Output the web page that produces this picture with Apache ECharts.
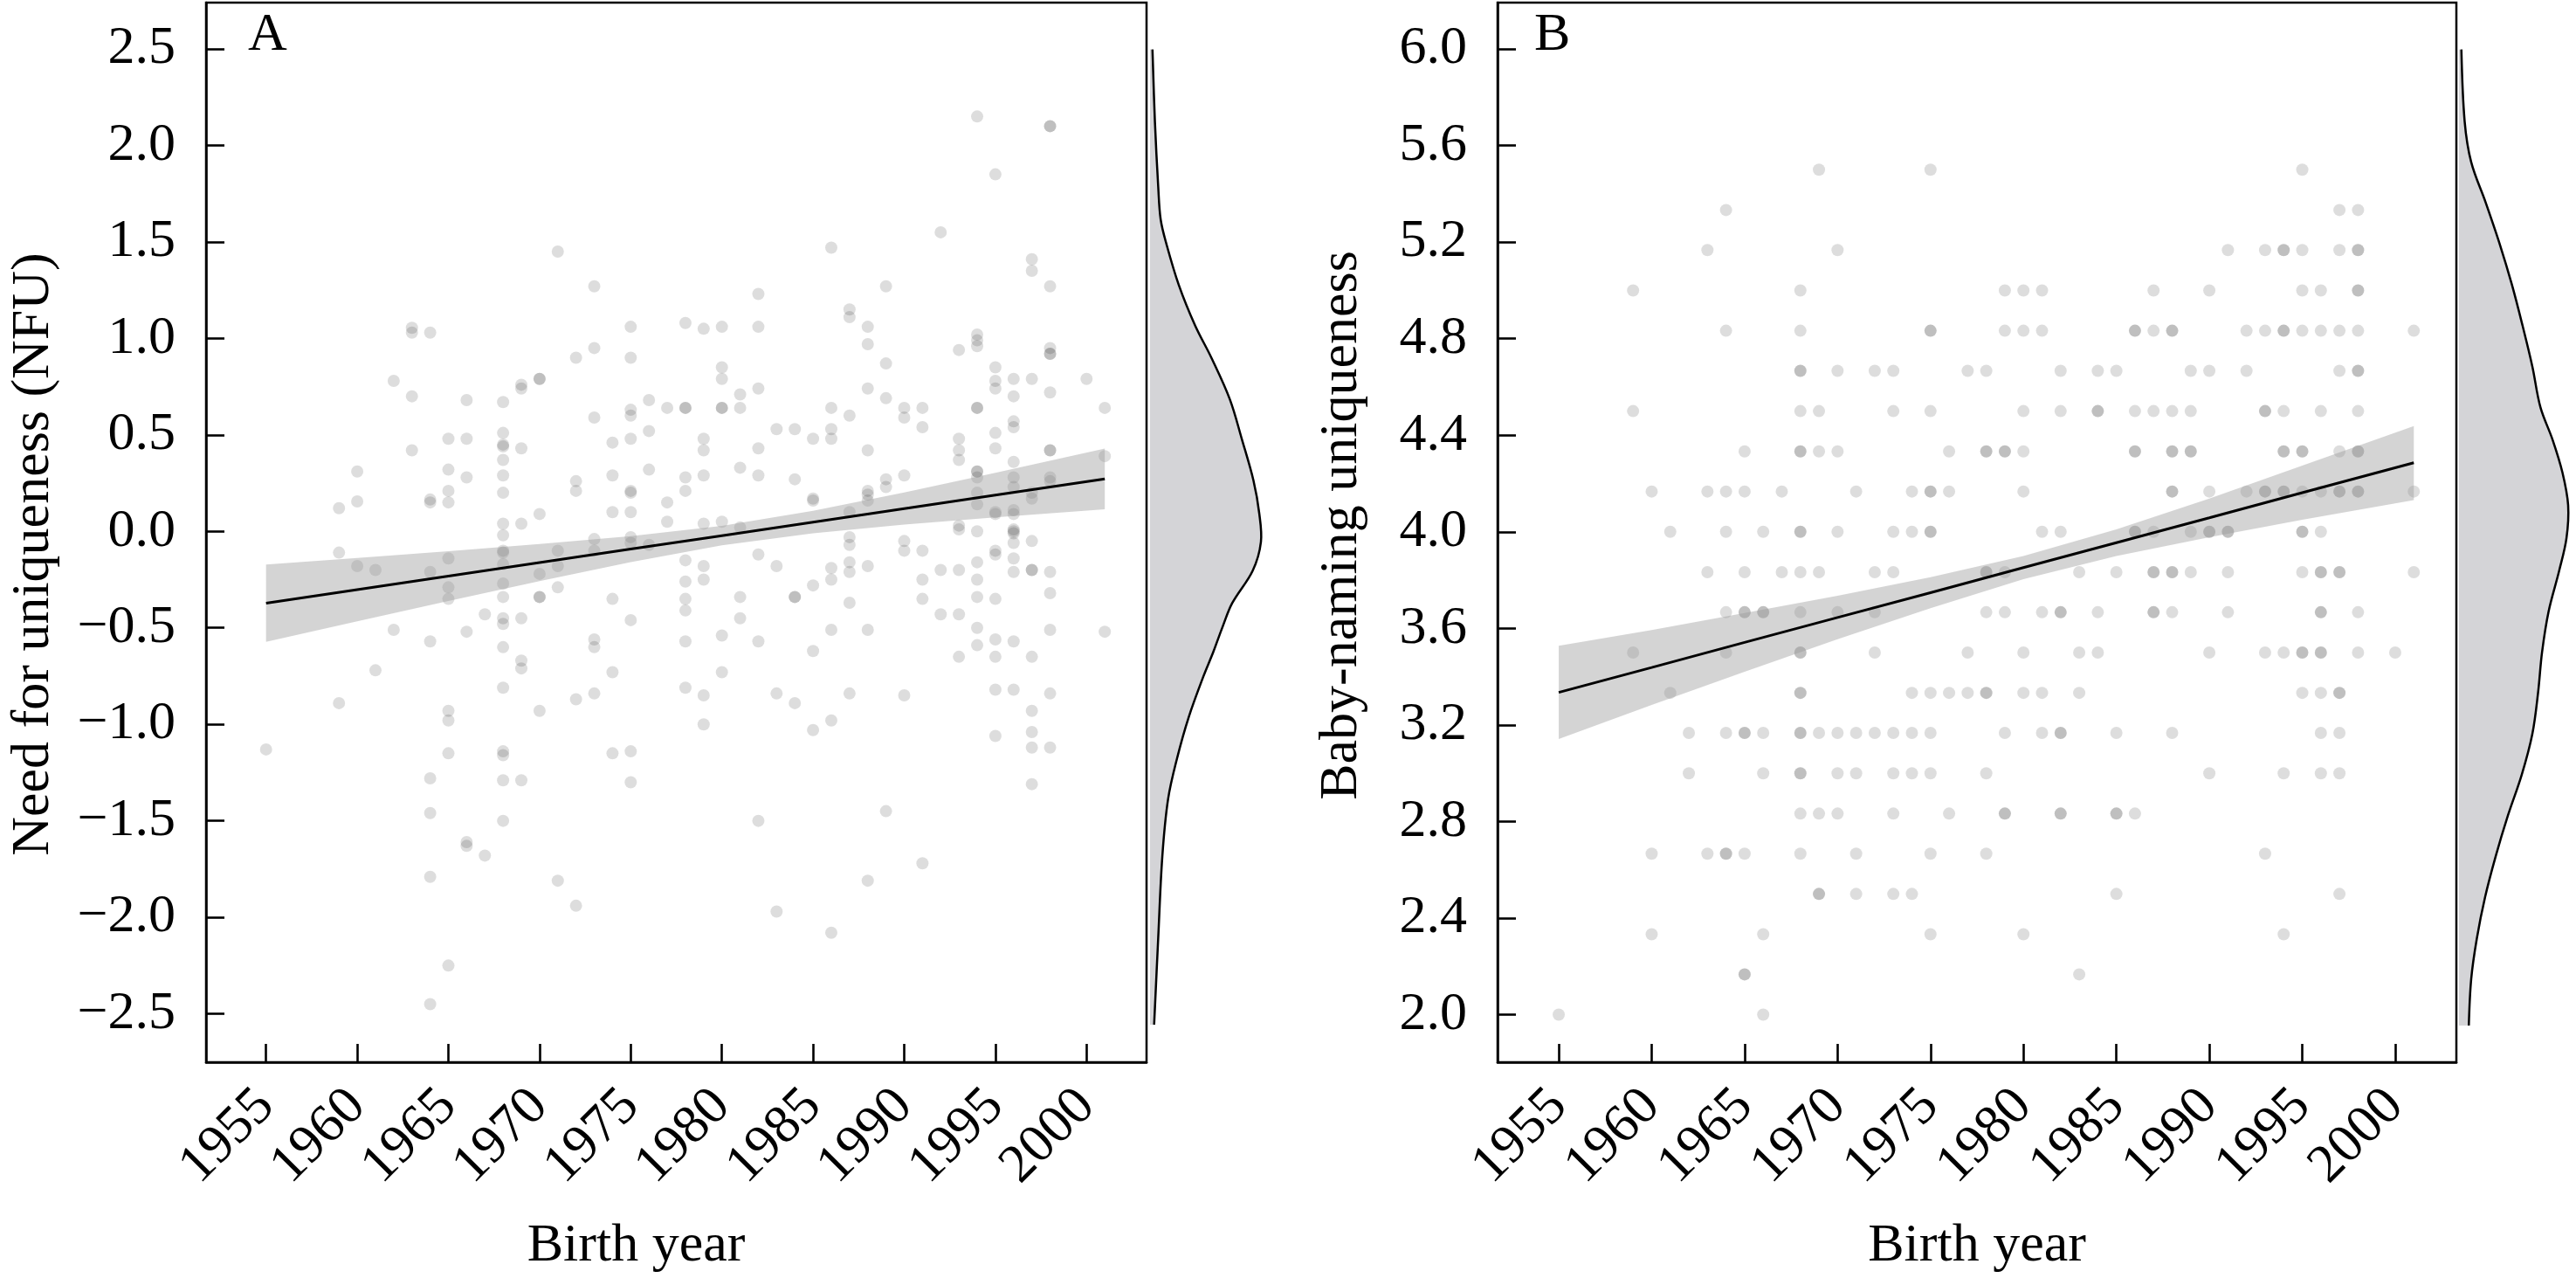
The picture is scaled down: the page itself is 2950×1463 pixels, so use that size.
<!DOCTYPE html>
<html><head><meta charset="utf-8">
<script src="https://cdn.jsdelivr.net/npm/echarts@6/dist/echarts.min.js"></script>
<style>html,body{margin:0;padding:0;background:#fff}#c{width:2950px;height:1463px}</style>
</head><body><div id="c"></div>
<script>
// ---- tick labels ----
const yearTicks = [1955, 1960, 1965, 1970, 1975, 1980, 1985, 1990, 1995, 2000];
const nfuTicks = [-2.5, -2, -1.5, -1, -0.5, 0, 0.5, 1, 1.5, 2, 2.5];
const nfuTickLabels = ['\u22122.5', '\u22122.0', '\u22121.5', '\u22121.0', '\u22120.5', '0.0', '0.5', '1.0', '1.5', '2.0', '2.5'];
const bnuTicks = [2.0, 2.4, 2.8, 3.2, 3.6, 4.0, 4.4, 4.8, 5.2, 5.6, 6.0];
const bnuTickLabels = ['2.0', '2.4', '2.8', '3.2', '3.6', '4.0', '4.4', '4.8', '5.2', '5.6', '6.0'];

// ---- panel A: need for uniqueness, points grouped by birth year ----
const nfuPoints = [
  [1955, [-1.13]],
  [1959, [0.12, -0.11, -0.89]],
  [1960, [0.31, 0.155, -0.18]],
  [1961, [-0.2, -0.72]],
  [1962, [0.78, -0.51]],
  [1963, [1.055, 1.03, 0.70, 0.42]],
  [1964, [1.03, 0.165, 0.15, -0.21, -0.57, -1.28, -1.46, -1.79, -2.45]],
  [1965, [0.48, 0.32, 0.21, 0.15, -0.14, -0.29, -0.35, -0.93, -0.98, -1.15, -2.25]],
  [1966, [0.68, 0.48, 0.28, -0.52, -1.61, -1.63]],
  [1967, [-0.43, -1.68]],
  [1968, [0.67, 0.51, 0.45, 0.44, 0.37, 0.29, 0.2, 0.04, -0.02, -0.1, -0.11, -0.17, -0.27, -0.34, -0.45, -0.48, -0.6, -0.81, -1.14, -1.16, -1.29, -1.5]],
  [1969, [0.76, 0.74, 0.43, 0.04, -0.45, -0.67, -0.71, -1.29]],
  [1970, [0.79, 0.79, 0.09, -0.22, -0.34, -0.34, -0.93]],
  [1971, [1.45, -0.1, -0.18, -0.29, -1.81]],
  [1972, [0.9, 0.26, 0.21, -0.87, -1.94]],
  [1973, [1.27, 0.95, 0.59, -0.04, -0.1, -0.56, -0.6, -0.84]],
  [1974, [0.46, 0.29, 0.1, -0.35, -0.73, -1.15]],
  [1975, [1.06, 0.9, 0.63, 0.6, 0.48, 0.21, 0.2, 0.1, -0.03, -0.06, -0.46, -1.14, -1.3]],
  [1976, [0.68, 0.52, 0.32, -0.07]],
  [1977, [0.64, 0.15, 0.05]],
  [1978, [1.08, 0.64, 0.64, 0.28, 0.21, -0.15, -0.26, -0.35, -0.41, -0.57, -0.81]],
  [1979, [1.05, 0.48, 0.42, 0.29, 0.04, -0.18, -0.25, -0.85, -1.0]],
  [1980, [1.06, 0.85, 0.79, 0.64, 0.64, 0.05, -0.54, -0.73]],
  [1981, [0.71, 0.64, 0.33, 0.02, -0.34, -0.45]],
  [1982, [1.23, 1.06, 0.74, 0.43, 0.29, -0.12, -0.57, -1.5]],
  [1983, [0.53, -0.18, -0.84, -1.97]],
  [1984, [0.53, 0.27, -0.34, -0.34, -0.89]],
  [1985, [0.48, 0.17, 0.16, -0.28, -0.62, -1.03]],
  [1986, [1.47, 0.64, 0.53, 0.48, -0.19, -0.25, -0.51, -0.98, -2.08]],
  [1987, [1.15, 1.11, 0.6, 0.1, -0.03, -0.07, -0.16, -0.21, -0.37, -0.84]],
  [1988, [1.06, 0.97, 0.74, 0.42, 0.21, 0.19, 0.16, -0.18, -0.51, -1.81]],
  [1989, [1.27, 0.87, 0.69, 0.27, 0.23, -1.45]],
  [1990, [0.64, 0.59, 0.29, -0.05, -0.1, -0.85]],
  [1991, [0.64, 0.54, -0.1, -0.25, -0.35, -1.72]],
  [1992, [1.55, -0.2, -0.43]],
  [1993, [0.94, 0.48, 0.42, 0.37, 0.03, 0.01, -0.2, -0.43, -0.65]],
  [1994, [2.15, 1.02, 0.99, 0.96, 0.64, 0.64, 0.31, 0.31, 0.28, 0.2, 0.14, 0.0, -0.16, -0.25, -0.34, -0.5, -0.59]],
  [1995, [1.85, 0.85, 0.78, 0.74, 0.51, 0.43, 0.1, 0.09, -0.1, -0.12, -0.35, -0.56, -0.65, -0.82, -1.06]],
  [1996, [0.79, 0.7, 0.57, 0.54, 0.36, 0.28, 0.23, 0.11, 0.09, 0.01, 0.0, -0.01, -0.06, -0.14, -0.21, -0.57, -0.82]],
  [1997, [1.41, 1.35, 0.79, 0.2, 0.17, -0.05, -0.2, -0.2, -0.65, -0.93, -1.04, -1.12, -1.31]],
  [1998, [2.1, 2.1, 1.27, 0.95, 0.92, 0.92, 0.72, 0.42, 0.42, 0.28, 0.26, -0.21, -0.32, -0.51, -0.84, -1.12]],
  [2000, [0.79]],
  [2001, [0.64, 0.39, -0.52]]
];

// ---- panel B: baby-naming uniqueness, points grouped by birth year ----
const bnuPoints = [
  [1955, [2.0]],
  [1959, [5.0, 4.5, 3.5]],
  [1960, [4.167, 2.667, 2.333]],
  [1961, [4.0, 3.333]],
  [1962, [3.167, 3.0]],
  [1963, [5.167, 4.167, 3.833, 2.667]],
  [1964, [5.333, 4.833, 4.167, 4.0, 3.667, 3.5, 3.167, 2.667, 2.667]],
  [1965, [4.333, 4.167, 3.833, 3.667, 3.667, 3.167, 3.167, 2.667, 2.167, 2.167]],
  [1966, [4.0, 3.667, 3.667, 3.167, 3.0, 2.333, 2.0]],
  [1967, [4.167, 3.833]],
  [1968, [5.0, 4.833, 4.667, 4.667, 4.5, 4.333, 4.333, 4.0, 4.0, 3.833, 3.667, 3.5, 3.5, 3.333, 3.333, 3.167, 3.167, 3.0, 3.0, 2.833, 2.667]],
  [1969, [5.5, 4.5, 4.333, 3.833, 3.167, 2.833, 2.5, 2.5]],
  [1970, [5.167, 4.667, 4.333, 4.0, 3.667, 3.167, 3.0, 2.833]],
  [1971, [4.167, 3.167, 3.0, 2.667, 2.5]],
  [1972, [4.667, 3.833, 3.667, 3.5, 3.167]],
  [1973, [4.667, 4.5, 4.0, 3.833, 3.167, 3.0, 2.833, 2.5]],
  [1974, [4.167, 4.0, 3.333, 3.167, 3.0, 2.5]],
  [1975, [5.5, 4.833, 4.833, 4.5, 4.167, 4.167, 4.0, 4.0, 3.333, 3.167, 3.0, 2.667, 2.333]],
  [1976, [4.333, 4.167, 3.333, 2.833]],
  [1977, [4.667, 3.5, 3.333]],
  [1978, [4.667, 4.333, 4.333, 3.833, 3.833, 3.667, 3.333, 3.333, 3.0, 2.667]],
  [1979, [5.0, 4.833, 4.333, 4.333, 3.833, 3.667, 3.167, 2.833, 2.833]],
  [1980, [5.0, 4.833, 4.5, 4.333, 4.167, 3.5, 3.333, 2.333]],
  [1981, [5.0, 4.833, 4.0, 3.667, 3.333, 3.167]],
  [1982, [4.667, 4.5, 4.0, 3.667, 3.667, 3.167, 3.167, 2.833, 2.833]],
  [1983, [3.833, 3.5, 3.333, 2.167]],
  [1984, [4.667, 4.5, 4.5, 3.667, 3.5]],
  [1985, [4.667, 3.833, 3.167, 2.833, 2.833, 2.5]],
  [1986, [4.833, 4.833, 4.5, 4.333, 4.333, 4.0, 4.0, 2.833]],
  [1987, [5.0, 4.833, 4.5, 4.0, 3.833, 3.833, 3.667, 3.667]],
  [1988, [4.833, 4.833, 4.5, 4.333, 4.333, 4.167, 4.167, 3.833, 3.833, 3.667, 3.167]],
  [1989, [4.667, 4.5, 4.333, 4.333, 4.0, 3.833]],
  [1990, [5.0, 4.667, 4.167, 4.0, 4.0, 3.5, 3.0]],
  [1991, [5.167, 4.0, 4.0, 3.833, 3.667]],
  [1992, [4.833, 4.667, 4.167]],
  [1993, [5.167, 4.833, 4.5, 4.5, 4.167, 4.167, 3.5, 2.667]],
  [1994, [5.167, 5.167, 4.833, 4.833, 4.5, 4.333, 4.333, 4.167, 4.167, 3.5, 3.0, 2.333]],
  [1995, [5.5, 5.167, 5.0, 4.833, 4.333, 4.333, 4.167, 4.0, 4.0, 3.833, 3.5, 3.5, 3.333]],
  [1996, [5.0, 4.833, 4.5, 4.167, 4.0, 3.833, 3.833, 3.667, 3.667, 3.5, 3.5, 3.333, 3.167, 3.0]],
  [1997, [5.333, 5.167, 4.833, 4.667, 4.333, 4.167, 4.167, 3.833, 3.833, 3.333, 3.333, 3.167, 3.0, 2.5]],
  [1998, [5.333, 5.167, 5.167, 5.0, 5.0, 4.833, 4.667, 4.667, 4.5, 4.333, 4.333, 4.167, 4.167, 3.667, 3.5]],
  [2000, [3.5]],
  [2001, [4.833, 4.167, 3.833]]
];

// ---- fitted lines and confidence bands ----
const fitYears = [1955, 1960, 1965, 1970, 1975, 1980, 1985, 1990, 1995, 2001];
const nfuFit   = [-0.372, -0.302, -0.232, -0.162, -0.092, -0.022, 0.048, 0.118, 0.188, 0.272];
const nfuUpper = [-0.172, -0.138, -0.103, -0.066, -0.025, 0.028, 0.106, 0.202, 0.304, 0.429];
const nfuLower = [-0.572, -0.466, -0.361, -0.258, -0.159, -0.072, -0.010, 0.035, 0.073, 0.115];
const bnuFit   = [3.335, 3.438, 3.542, 3.645, 3.748, 3.852, 3.955, 4.058, 4.162, 4.286];
const bnuUpper = [3.528, 3.593, 3.664, 3.735, 3.812, 3.900, 4.010, 4.138, 4.274, 4.438];
const bnuLower = [3.142, 3.283, 3.420, 3.555, 3.684, 3.804, 3.900, 3.978, 4.050, 4.131];

// ---- marginal densities (relative height) ----
const nfuDensityY = [2.5, 2.13, 1.795, 1.628, 1.502, 1.293, 1.084, 0.916, 0.707, 0.498, 0.289, 0.121, -0.025, -0.172, -0.339, -0.464, -0.59, -0.715, -0.925, -1.134, -1.343, -1.636, -2.054, -2.5];
const nfuDensity  = [0.022, 0.044, 0.074, 0.096, 0.148, 0.259, 0.407, 0.556, 0.719, 0.830, 0.933, 0.985, 1.0, 0.926, 0.741, 0.652, 0.570, 0.481, 0.348, 0.244, 0.163, 0.111, 0.074, 0.037];
const bnuDensityY = [6.0, 5.705, 5.538, 5.371, 5.203, 5.036, 4.869, 4.701, 4.534, 4.4, 4.266, 4.132, 3.998, 3.864, 3.697, 3.53, 3.362, 3.195, 3.028, 2.86, 2.693, 2.526, 2.358, 2.191, 2.0];
const bnuDensity  = [0.022, 0.052, 0.112, 0.246, 0.373, 0.485, 0.582, 0.672, 0.746, 0.858, 0.948, 1.0, 0.985, 0.918, 0.821, 0.761, 0.724, 0.672, 0.575, 0.448, 0.336, 0.239, 0.164, 0.112, 0.090];

// ---------------------------------------------------------------
const FONT = 'Liberation Serif';
const flat = (groups) => groups.flatMap(([yr, vals]) => vals.map(v => [yr, v]));
const labelFrom = (ticks, labels) => (v) => {
  const i = ticks.findIndex(t => Math.abs(t - v) < 1e-6);
  return i >= 0 ? labels[i] : '';
};

const G = [
  { left: 236, top: 3, width: 1077, height: 1226 },
  { left: 1317, top: 3, width: 127, height: 1226 },
  { left: 1715, top: 3, width: 1098, height: 1226 },
  { left: 2816, top: 3, width: 125, height: 1226 }
];
const X_MIN = 1951.71, X_MAX = 2003.29;
const NFU_MIN = -2.751, NFU_MAX = 2.740;
const BNU_MIN = 1.803, BNU_MAX = 6.192;

const AXLINE = { show: true, onZero: false, lineStyle: { color: '#000', width: 2.5 } };
const TICK = (vals) => ({ show: true, inside: true, length: 21, lineStyle: { color: '#000', width: 2.6 }, customValues: vals });

function xAxisMain(gi, padRight) {
  return {
    gridIndex: gi, type: 'value', position: 'bottom', min: X_MIN, max: X_MAX,
    axisLine: AXLINE, splitLine: { show: false },
    axisTick: TICK(yearTicks),
    axisLabel: { customValues: yearTicks, rotate: 45, margin: 41, padding: [36, 0, 0, 0], fontSize: 62, color: '#000', fontFamily: FONT, formatter: v => String(v) },
    name: 'Birth year', nameLocation: 'middle', nameGap: 180,
    nameTextStyle: { fontSize: 62, color: '#000', fontFamily: FONT, padding: [0, padRight, 0, 0] }
  };
}
function yAxisMain(gi, min, max, ticks, labels, name, gap, pad) {
  return {
    gridIndex: gi, type: 'value', position: 'left', min: min, max: max,
    axisLine: AXLINE, splitLine: { show: false },
    axisTick: TICK(ticks),
    axisLabel: { customValues: ticks, margin: 35, fontSize: 62, color: '#000', fontFamily: FONT, formatter: labelFrom(ticks, labels) },
    name: name, nameLocation: 'middle', nameGap: gap,
    nameTextStyle: { fontSize: 62, color: '#000', fontFamily: FONT, padding: pad }
  };
}
const hidden = (gi, min, max) => ({ gridIndex: gi, type: 'value', min: min, max: max, show: false, splitLine: { show: false } });

function bandSeries(xi, upper, lower) {
  return {
    type: 'custom', xAxisIndex: xi, yAxisIndex: xi, z: 3, silent: true,
    data: fitYears.map((x, i) => [x, upper[i], lower[i]]),
    renderItem: (params, api) => {
      if (params.dataIndex !== 0) return null;
      const pts = [];
      fitYears.forEach((x, i) => pts.push(api.coord([x, upper[i]])));
      for (let i = fitYears.length - 1; i >= 0; i--) pts.push(api.coord([fitYears[i], lower[i]]));
      return { type: 'polygon', shape: { points: pts }, style: { fill: 'rgba(153,153,153,0.42)' } };
    }
  };
}
function densitySeries(xi, ys, ds) {
  return {
    type: 'custom', xAxisIndex: xi, yAxisIndex: xi, silent: true,
    data: ys.map((y, i) => [ds[i], y]),
    renderItem: (params, api) => {
      if (params.dataIndex !== 0) return null;
      const curve = ys.map((y, i) => api.coord([ds[i], y]));
      const poly = [api.coord([0, ys[0]])].concat(curve, [api.coord([0, ys[ys.length - 1]])]);
      return {
        type: 'group', children: [
          { type: 'polygon', shape: { points: poly, smooth: 0 }, style: { fill: '#d4d4d7' } },
          { type: 'polyline', shape: { points: curve, smooth: 0.35 }, style: { stroke: '#000', lineWidth: 2.5, fill: null } }
        ]
      };
    }
  };
}

const chart = echarts.init(document.getElementById('c'), null, { renderer: 'canvas' });
chart.setOption({
  backgroundColor: '#fff',
  animation: false,
  grid: [
    Object.assign({ show: true, borderColor: '#000', borderWidth: 2.5, backgroundColor: 'transparent' }, G[0]),
    Object.assign({ show: false }, G[1]),
    Object.assign({ show: true, borderColor: '#000', borderWidth: 2.5, backgroundColor: 'transparent' }, G[2]),
    Object.assign({ show: false }, G[3])
  ],
  xAxis: [xAxisMain(0, 92), hidden(1, 0, 1), xAxisMain(2, 0), hidden(3, 0, 1)],
  yAxis: [
    yAxisMain(0, NFU_MIN, NFU_MAX, nfuTicks, nfuTickLabels, 'Need for uniqueness (NFU)', 166, [0, 50, 0, 0]),
    hidden(1, NFU_MIN, NFU_MAX),
    yAxisMain(2, BNU_MIN, BNU_MAX, bnuTicks, bnuTickLabels, 'Baby-naming uniqueness', 147, [0, 0, 0, 16]),
    hidden(3, BNU_MIN, BNU_MAX)
  ],
  graphic: [
    { type: 'text', left: 284, top: 10, style: { text: 'A', font: '62px "Liberation Serif"', fill: '#000' } },
    { type: 'text', left: 1757, top: 10, style: { text: 'B', font: '62px "Liberation Serif"', fill: '#000' } }
  ],
  series: [
    { type: 'scatter', xAxisIndex: 0, yAxisIndex: 0, z: 2, symbolSize: 14, itemStyle: { color: 'rgba(0,0,0,0.17)' }, data: flat(nfuPoints) },
    bandSeries(0, nfuUpper, nfuLower),
    { type: 'line', xAxisIndex: 0, yAxisIndex: 0, z: 4, symbol: 'none', lineStyle: { color: '#000', width: 3 }, data: fitYears.map((x, i) => [x, nfuFit[i]]) },
    densitySeries(1, nfuDensityY, nfuDensity),
    { type: 'scatter', xAxisIndex: 2, yAxisIndex: 2, z: 2, symbolSize: 14, itemStyle: { color: 'rgba(0,0,0,0.17)' }, data: flat(bnuPoints) },
    bandSeries(2, bnuUpper, bnuLower),
    { type: 'line', xAxisIndex: 2, yAxisIndex: 2, z: 4, symbol: 'none', lineStyle: { color: '#000', width: 3 }, data: fitYears.map((x, i) => [x, bnuFit[i]]) },
    densitySeries(3, bnuDensityY, bnuDensity)
  ]
});
</script>
</body></html>
